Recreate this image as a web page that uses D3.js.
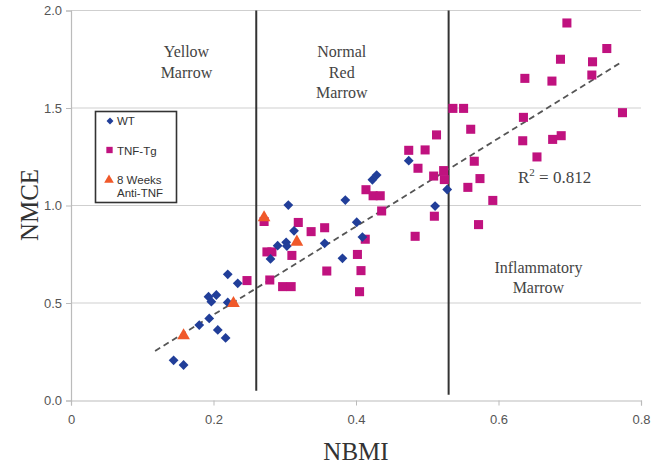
<!DOCTYPE html>
<html>
<head>
<meta charset="utf-8">
<script src="https://cdn.jsdelivr.net/npm/d3@7"></script>
<style>
  body { margin: 0; background: #fff; }
  .tick text { font-family: "Liberation Sans", Arial, sans-serif; font-size: 13px; fill: #555; }
  .serif { font-family: "Liberation Serif", "Times New Roman", serif; fill: #444; }
</style>
</head>
<body>
<svg id="chart"></svg>
<script>
// WT (blue diamonds): [NBMI, NMCE]
var wt_points = [
    [0.144, 0.206], [0.158, 0.182], [0.180, 0.387], [0.194, 0.421], [0.206, 0.362],
    [0.217, 0.321], [0.193, 0.532], [0.204, 0.541], [0.197, 0.507], [0.220, 0.503],
    [0.220, 0.647], [0.234, 0.601], [0.305, 1.002], [0.385, 1.028], [0.401, 0.914],
    [0.313, 0.870], [0.290, 0.794], [0.302, 0.811], [0.303, 0.792], [0.356, 0.806],
    [0.280, 0.726], [0.381, 0.729], [0.409, 0.838], [0.423, 1.132], [0.429, 1.156],
    [0.474, 1.230], [0.528, 1.082], [0.511, 0.997]
];

// TNF-Tg (magenta squares)
var tnf_points = [
    [0.247, 0.615], [0.271, 0.918], [0.319, 0.913], [0.337, 0.866], [0.356, 0.886],
    [0.275, 0.762], [0.282, 0.762], [0.310, 0.744], [0.359, 0.664], [0.279, 0.618],
    [0.297, 0.584], [0.309, 0.584], [0.402, 0.749], [0.407, 0.666], [0.405, 0.558],
    [0.413, 0.827], [0.414, 1.081], [0.424, 1.050], [0.434, 1.050], [0.436, 0.972],
    [0.483, 0.842], [0.474, 1.283], [0.497, 1.285], [0.487, 1.191], [0.509, 1.151],
    [0.513, 1.362], [0.510, 0.945], [0.523, 1.179], [0.524, 1.133], [0.536, 1.498],
    [0.551, 1.498], [0.561, 1.391], [0.566, 1.227], [0.574, 1.138], [0.557, 1.093],
    [0.592, 1.026], [0.572, 0.902], [0.635, 1.452], [0.634, 1.332], [0.637, 1.652],
    [0.654, 1.249], [0.676, 1.339], [0.688, 1.358], [0.675, 1.638], [0.687, 1.750],
    [0.696, 1.936], [0.752, 1.805], [0.732, 1.737], [0.731, 1.669], [0.774, 1.476]
];

// 8 Weeks Anti-TNF (orange triangles)
var anti_points = [
    [0.158, 0.333], [0.228, 0.498], [0.271, 0.938], [0.317, 0.813]
];

// trend line y = slope * x + intercept, drawn over this NBMI range
var trend_slope = 2.263;
var trend_intercept = -0.013;
var trend_range = [0.118, 0.771];

// region boundaries (NBMI) and their lower ends (NMCE)
var boundaries = [[0.26, 0.05], [0.53, 0.03]];

var x_ticks = [0, 0.2, 0.4, 0.6, 0.8];
var y_ticks = [0, 0.5, 1.0, 1.5, 2.0];

var region_labels = [
    { x: 0.162, y: 1.76, lines: ["Yellow", "Marrow"] },
    { x: 0.38, y: 1.76, lines: ["Normal", "Red", "Marrow"] },
    { x: 0.656, y: 0.655, lines: ["Inflammatory", "Marrow"] }
];

var width = 654, height = 466;

var svg = d3.select("#chart")
    .attr("width", width)
    .attr("height", height);

var xScale = d3.scaleLinear().domain([0, 0.8]).range([71, 641]);
var yScale = d3.scaleLinear().domain([0, 2]).range([400.5, 10.5]);

// gridlines
svg.append("g")
    .selectAll("line")
    .data(y_ticks.filter(function(d) { return d > 0; }))
    .enter().append("line")
    .attr("x1", xScale(0))
    .attr("x2", xScale(0.8))
    .attr("y1", function(d) { return yScale(d); })
    .attr("y2", function(d) { return yScale(d); })
    .attr("stroke", "#cfcfcf")
    .attr("stroke-width", 1.2);

// axes
var xAxis = svg.append("g")
    .attr("transform", "translate(0," + yScale(0) + ")")
    .call(d3.axisBottom(xScale).tickValues(x_ticks).tickSize(5).tickPadding(9)
        .tickFormat(function(d) { return d === 0 ? "0" : d3.format(".1f")(d); }));

var yAxis = svg.append("g")
    .attr("transform", "translate(" + xScale(0) + ",0)")
    .call(d3.axisLeft(yScale).tickValues(y_ticks).tickSize(5).tickPadding(4)
        .tickFormat(d3.format(".1f")));

[xAxis, yAxis].forEach(function(a) {
    a.select(".domain").attr("stroke", "#bbb").attr("stroke-width", 1.2);
    a.selectAll(".tick line").attr("stroke", "#bbb");
});

// region boundaries
svg.append("g")
    .selectAll("line")
    .data(boundaries)
    .enter().append("line")
    .attr("x1", function(d) { return xScale(d[0]); })
    .attr("x2", function(d) { return xScale(d[0]); })
    .attr("y1", yScale(2))
    .attr("y2", function(d) { return yScale(d[1]); })
    .attr("stroke", "#333")
    .attr("stroke-width", 2);

// region labels
region_labels.forEach(function(r) {
    var t = svg.append("text")
        .attr("class", "serif")
        .attr("text-anchor", "middle")
        .style("font-size", "16px");
    r.lines.forEach(function(s, i) {
        t.append("tspan")
            .attr("x", xScale(r.x))
            .attr("y", yScale(r.y) + i * 20.5)
            .text(s);
    });
});

// trend line
svg.append("line")
    .attr("x1", xScale(trend_range[0]))
    .attr("y1", yScale(trend_slope * trend_range[0] + trend_intercept))
    .attr("x2", xScale(trend_range[1]))
    .attr("y2", yScale(trend_slope * trend_range[1] + trend_intercept))
    .attr("stroke", "#555")
    .attr("stroke-width", 1.8)
    .attr("stroke-dasharray", "6,4");

// R squared
var r2 = svg.append("text")
    .attr("class", "serif")
    .attr("x", 518)
    .attr("y", 183)
    .style("font-size", "17px");
r2.append("tspan").text("R");
r2.append("tspan").attr("dy", -7).style("font-size", "11px").text("2");
r2.append("tspan").attr("dy", 7).text(" = 0.812");

// points
var diamond = d3.symbol().type(d3.symbolSquare).size(48);
var square = d3.symbol().type(d3.symbolSquare).size(82);
var triangle = d3.symbol().type(d3.symbolTriangle).size(70);

svg.append("g")
    .selectAll("path")
    .data(tnf_points)
    .enter().append("path")
    .attr("d", square)
    .attr("transform", function(d) { return "translate(" + xScale(d[0]) + "," + yScale(d[1]) + ")"; })
    .attr("fill", "#c0127f");

svg.append("g")
    .selectAll("path")
    .data(wt_points)
    .enter().append("path")
    .attr("d", diamond)
    .attr("transform", function(d) { return "translate(" + xScale(d[0]) + "," + yScale(d[1]) + ") rotate(45)"; })
    .attr("fill", "#213e99");

svg.append("g")
    .selectAll("path")
    .data(anti_points)
    .enter().append("path")
    .attr("d", triangle)
    .attr("transform", function(d) { return "translate(" + xScale(d[0]) + "," + yScale(d[1]) + ")"; })
    .attr("fill", "#f0592a");

// legend
var legend = svg.append("g");
legend.append("rect")
    .attr("x", 95.5)
    .attr("y", 111.5)
    .attr("width", 81)
    .attr("height", 91)
    .attr("fill", "#fff")
    .attr("stroke", "#333")
    .attr("stroke-width", 1.6);

legend.append("path").attr("d", d3.symbol().type(d3.symbolSquare).size(24))
    .attr("transform", "translate(110,121) rotate(45)").attr("fill", "#213e99");
legend.append("path").attr("d", d3.symbol().type(d3.symbolSquare).size(40))
    .attr("transform", "translate(109.5,150)").attr("fill", "#c0127f");
legend.append("path").attr("d", d3.symbol().type(d3.symbolTriangle).size(40))
    .attr("transform", "translate(109,180)").attr("fill", "#f0592a");

var legend_texts = [["WT", 125], ["TNF-Tg", 154.5], ["8 Weeks", 184], ["Anti-TNF", 197]];
legend.selectAll("text")
    .data(legend_texts)
    .enter().append("text")
    .attr("x", 117)
    .attr("y", function(d) { return d[1]; })
    .style("font-family", "Liberation Sans, Arial, sans-serif")
    .style("font-size", "11.5px")
    .style("fill", "#333")
    .text(function(d) { return d[0]; });

// axis titles
svg.append("text")
    .attr("class", "serif")
    .attr("text-anchor", "middle")
    .attr("transform", "translate(38,205) rotate(-90)")
    .style("font-size", "25px")
    .style("fill", "#333")
    .text("NMCE");

svg.append("text")
    .attr("class", "serif")
    .attr("text-anchor", "middle")
    .attr("x", 356)
    .attr("y", 460)
    .style("font-size", "25px")
    .style("fill", "#333")
    .text("NBMI");
</script>
</body>
</html>
